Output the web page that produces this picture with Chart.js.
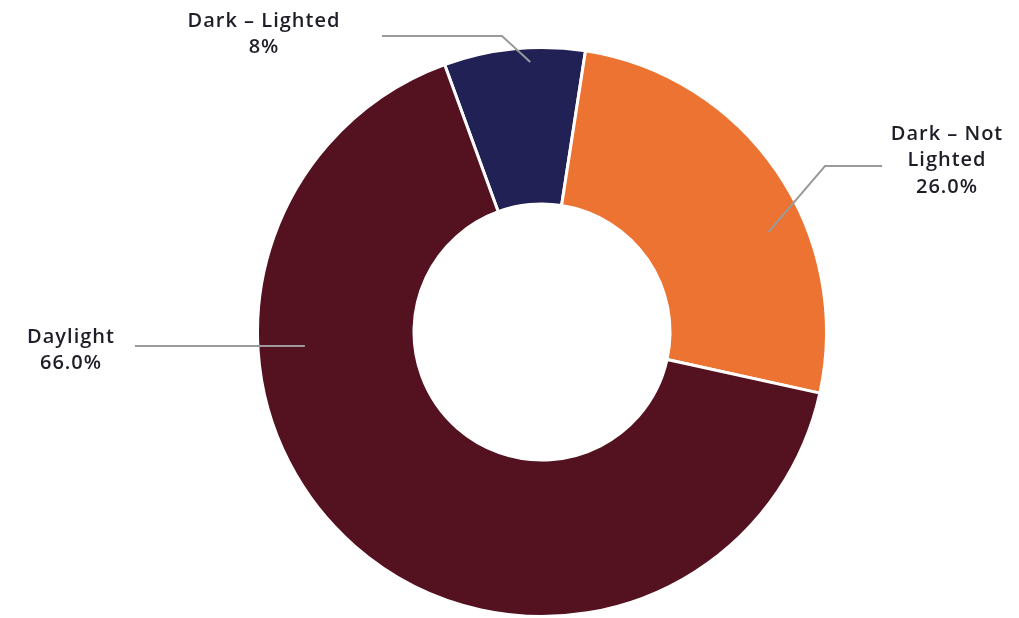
<!DOCTYPE html>
<html>
<head>
<meta charset="utf-8">
<script src="https://cdn.jsdelivr.net/npm/chart.js@4.4.1/dist/chart.umd.min.js"></script>
<style>
	html, body { margin: 0; padding: 0; background: #fff; }
	#wrap { width: 1019px; height: 618px; position: relative; }
</style>
</head>
<body>
<div id="wrap"><canvas id="lightChart"></canvas></div>
<script>
// lighting condition shares
const categories = [['Dark – Lighted'], ['Dark – Not', 'Lighted'], ['Daylight']];
const shares = [8, 26, 66];
const shareDecimals = [0, 1, 1];
const sliceColors = ['#212155', '#EC7332', '#541120'];

// where each callout sits: anchor on the ring (angle from 12 o'clock, fraction of radius),
// elbow and line end, then the text block centre
const callouts = [
	{ angle: -2.5, r: 0.95, elbow: [502, 36], end: [382, 36], text: [264, 21] },
	{ angle: 66.2, r: 0.87, elbow: [825, 166], end: [882, 166], text: [947, 134] },
	{ angle: -93.4, r: 0.835, elbow: null, end: [135, null], text: [71, 337] },
];

const calloutPlugin = {
	id: 'callouts',
	afterDatasetsDraw(chart) {
		const ctx = chart.ctx;
		const meta = chart.getDatasetMeta(0);
		meta.data.forEach((arc, i) => {
			const c = callouts[i];
			const p = arc.getProps(['x', 'y', 'outerRadius'], true);
			const a = (c.angle - 90) * Math.PI / 180;
			const ax = p.x + Math.cos(a) * p.outerRadius * c.r;
			const ay = p.y + Math.sin(a) * p.outerRadius * c.r;

			ctx.save();
			ctx.strokeStyle = '#9a9a9a';
			ctx.lineWidth = 2;
			ctx.beginPath();
			ctx.moveTo(ax, ay);
			if (c.elbow) ctx.lineTo(c.elbow[0], c.elbow[1]);
			// straight callouts stay level with their anchor
			ctx.lineTo(c.end[0], c.end[1] === null ? ay : c.end[1]);
			ctx.stroke();

			const lines = categories[i].concat(shares[i].toFixed(shareDecimals[i]) + '%');
			ctx.fillStyle = '#1e1e28';
			ctx.font = '600 20px "Open Sans"';
			ctx.letterSpacing = '1px';
			ctx.textAlign = 'center';
			ctx.textBaseline = 'middle';
			lines.forEach((t, k) => ctx.fillText(t, c.text[0], c.text[1] + k * 26.5));
			ctx.restore();
		});
	},
};

new Chart(document.getElementById('lightChart'), {
	type: 'doughnut',
	data: {
		labels: categories,
		datasets: [
			{
				data: shares,
				backgroundColor: sliceColors,
				borderColor: '#ffffff',
				borderWidth: 3,
				cutout: '45%',
				rotation: -20,
			},
		],
	},
	options: {
		responsive: true,
		maintainAspectRatio: false,
		animation: false,
		layout: {
			padding: { top: 46, bottom: -2, left: 65, right: 0 },
		},
		plugins: {
			legend: { display: false },
			tooltip: { enabled: false },
		},
	},
	plugins: [calloutPlugin],
});
</script>
</body>
</html>
